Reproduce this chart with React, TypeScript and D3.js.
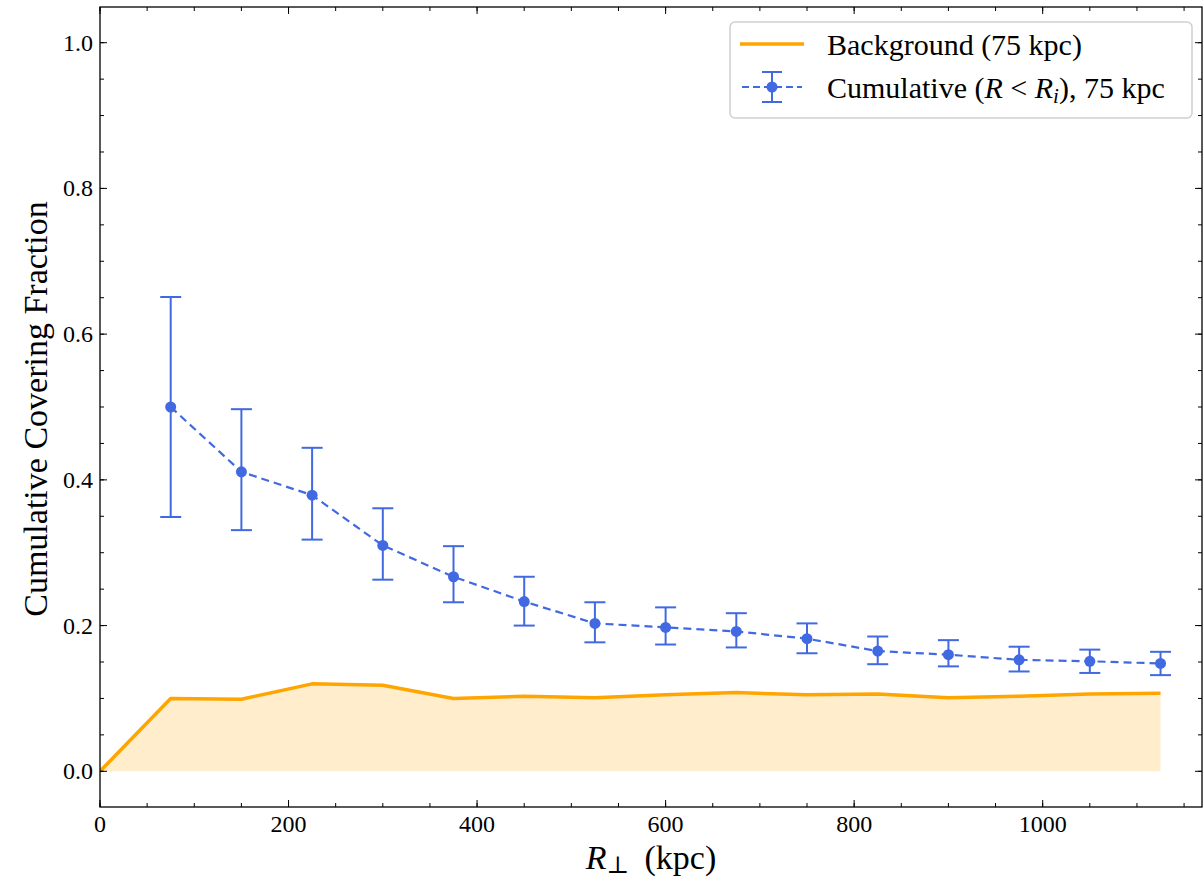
import React from "react";
import * as d3 from "d3";

const radii = [75, 150, 225, 300, 375, 450, 525, 600, 675, 750, 825, 900, 975, 1050, 1125];
const cumulative = [0.5, 0.411, 0.379, 0.31, 0.267, 0.233, 0.203, 0.1975, 0.192, 0.182, 0.165, 0.16, 0.153, 0.151, 0.148];
const errUpper = [0.651, 0.497, 0.444, 0.361, 0.309, 0.267, 0.232, 0.225, 0.217, 0.203, 0.185, 0.18, 0.171, 0.167, 0.164];
const errLower = [0.349, 0.331, 0.318, 0.263, 0.232, 0.2, 0.177, 0.174, 0.17, 0.162, 0.147, 0.144, 0.137, 0.135, 0.132];
const bgRadii = [0, 75, 150, 225, 300, 375, 450, 525, 600, 675, 750, 825, 900, 975, 1050, 1125];
const background = [0, 0.1, 0.099, 0.12, 0.118, 0.1, 0.103, 0.101, 0.105, 0.108, 0.105, 0.106, 0.101, 0.103, 0.106, 0.107];
const xTicks = [0, 200, 400, 600, 800, 1000];
const yTicks = [0.0, 0.2, 0.4, 0.6, 0.8, 1.0];

const W = 1203, H = 880;
const L = 100, R = 1202, T = 7, B = 807;
const FONT = "'Liberation Serif', 'DejaVu Serif', serif";
const BLUE = "#4169E1";
const ORANGE = "#FFA500";

export default function App() {
  const x = d3.scaleLinear().domain([0, 1169]).range([L, R]);
  const y = d3.scaleLinear().domain([-0.049, 1.049]).range([B, T]);

  const bgData = bgRadii.map((r, i) => ({ r, v: background[i] }));
  const area = d3.area<{ r: number; v: number }>().x(d => x(d.r)).y0(y(0)).y1(d => y(d.v));
  const bgLine = d3.line<{ r: number; v: number }>().x(d => x(d.r)).y(d => y(d.v));
  const cumData = radii.map((r, i) => ({ r, v: cumulative[i] }));
  const cumLine = d3.line<{ r: number; v: number }>().x(d => x(d.r)).y(d => y(d.v));

  const xMinor = d3.range(0, 1169, 50);
  const yMinor = d3.range(-0.0, 1.05, 0.05);

  const cap = 10.5;

  return (
    <svg width={W} height={H} style={{ position: "absolute", left: 0, top: 0, background: "#fff" }}>
      <defs>
        <clipPath id="plot">
          <rect x={L} y={T} width={R - L} height={B - T} />
        </clipPath>
      </defs>
      <g clipPath="url(#plot)">
        <path d={area(bgData) || ""} fill={ORANGE} fillOpacity={0.2} />
        <path d={bgLine(bgData) || ""} fill="none" stroke={ORANGE} strokeWidth={3.5} strokeLinejoin="round" />
        <path d={cumLine(cumData) || ""} fill="none" stroke={BLUE} strokeWidth={2.2} strokeDasharray="8,5" />
        {radii.map((r, i) => (
          <g key={r} stroke={BLUE} strokeWidth={2}>
            <line x1={x(r)} x2={x(r)} y1={y(errLower[i])} y2={y(errUpper[i])} />
            <line x1={x(r) - cap} x2={x(r) + cap} y1={y(errLower[i])} y2={y(errLower[i])} />
            <line x1={x(r) - cap} x2={x(r) + cap} y1={y(errUpper[i])} y2={y(errUpper[i])} />
          </g>
        ))}
        {radii.map((r, i) => (
          <circle key={r} cx={x(r)} cy={y(cumulative[i])} r={5.5} fill={BLUE} />
        ))}
      </g>
      {/* ticks */}
      <g stroke="#000" strokeWidth={1}>
        {xMinor.map(v => (
          <g key={"xm" + v}>
            <line x1={x(v)} x2={x(v)} y1={B} y2={B - 4} />
            <line x1={x(v)} x2={x(v)} y1={T} y2={T + 4} />
          </g>
        ))}
        {xTicks.map(v => (
          <g key={"xM" + v}>
            <line x1={x(v)} x2={x(v)} y1={B} y2={B - 7} />
            <line x1={x(v)} x2={x(v)} y1={T} y2={T + 7} />
          </g>
        ))}
        {yMinor.map(v => (
          <g key={"ym" + v}>
            <line x1={L} x2={L + 4} y1={y(v)} y2={y(v)} />
            <line x1={R} x2={R - 4} y1={y(v)} y2={y(v)} />
          </g>
        ))}
        {yTicks.map(v => (
          <g key={"yM" + v}>
            <line x1={L} x2={L + 7} y1={y(v)} y2={y(v)} />
            <line x1={R} x2={R - 7} y1={y(v)} y2={y(v)} />
          </g>
        ))}
      </g>
      <rect x={L} y={T} width={R - L} height={B - T} fill="none" stroke="#000" strokeWidth={1.3} />
      <g fontFamily={FONT} fontSize={24} fill="#000">
        {xTicks.map(v => (
          <text key={"xl" + v} x={x(v)} y={B + 25} textAnchor="middle">{v}</text>
        ))}
        {yTicks.map(v => (
          <text key={"yl" + v} x={L - 7} y={y(v) + 8} textAnchor="end">{v.toFixed(1)}</text>
        ))}
      </g>
      <text x={(L + R) / 2} y={869} textAnchor="middle" fontFamily={FONT} fontSize={34}>
        <tspan fontStyle="italic">R</tspan>
        <tspan fontSize={24} dy={4}>⊥</tspan>
        <tspan dy={-4}>{"\u2009 (kpc)"}</tspan>
      </text>
      <text transform={`translate(47, ${(T + B) / 2 + 2}) rotate(-90)`} textAnchor="middle" fontFamily={FONT} fontSize={34}>
        Cumulative Covering Fraction
      </text>
      {/* legend */}
      <g>
        <rect x={730} y={22} width={462} height={96} rx={5} fill="#fff" fillOpacity={0.8} stroke="#d0d0d0" strokeWidth={1.5} />
        <line x1={740} x2={804} y1={44} y2={44} stroke={ORANGE} strokeWidth={3.5} />
        <g stroke={BLUE} strokeWidth={2}>
          <line x1={742} x2={802} y1={87} y2={87} strokeDasharray="7,4" />
          <line x1={772} x2={772} y1={72} y2={102} />
          <line x1={762} x2={782} y1={72} y2={72} />
          <line x1={762} x2={782} y1={102} y2={102} />
        </g>
        <circle cx={772} cy={87} r={5.5} fill={BLUE} />
        <g fontFamily={FONT} fontSize={30} fill="#000">
          <text x={827} y={55}>Background (75 kpc)</text>
          <text x={827} y={98}>
            Cumulative (<tspan fontStyle="italic">R</tspan>
            <tspan>{" < "}</tspan>
            <tspan fontStyle="italic">R</tspan>
            <tspan fontStyle="italic" fontSize={21} dy={5}>i</tspan>
            <tspan dy={-5}>), 75 kpc</tspan>
          </text>
        </g>
      </g>
    </svg>
  );
}
